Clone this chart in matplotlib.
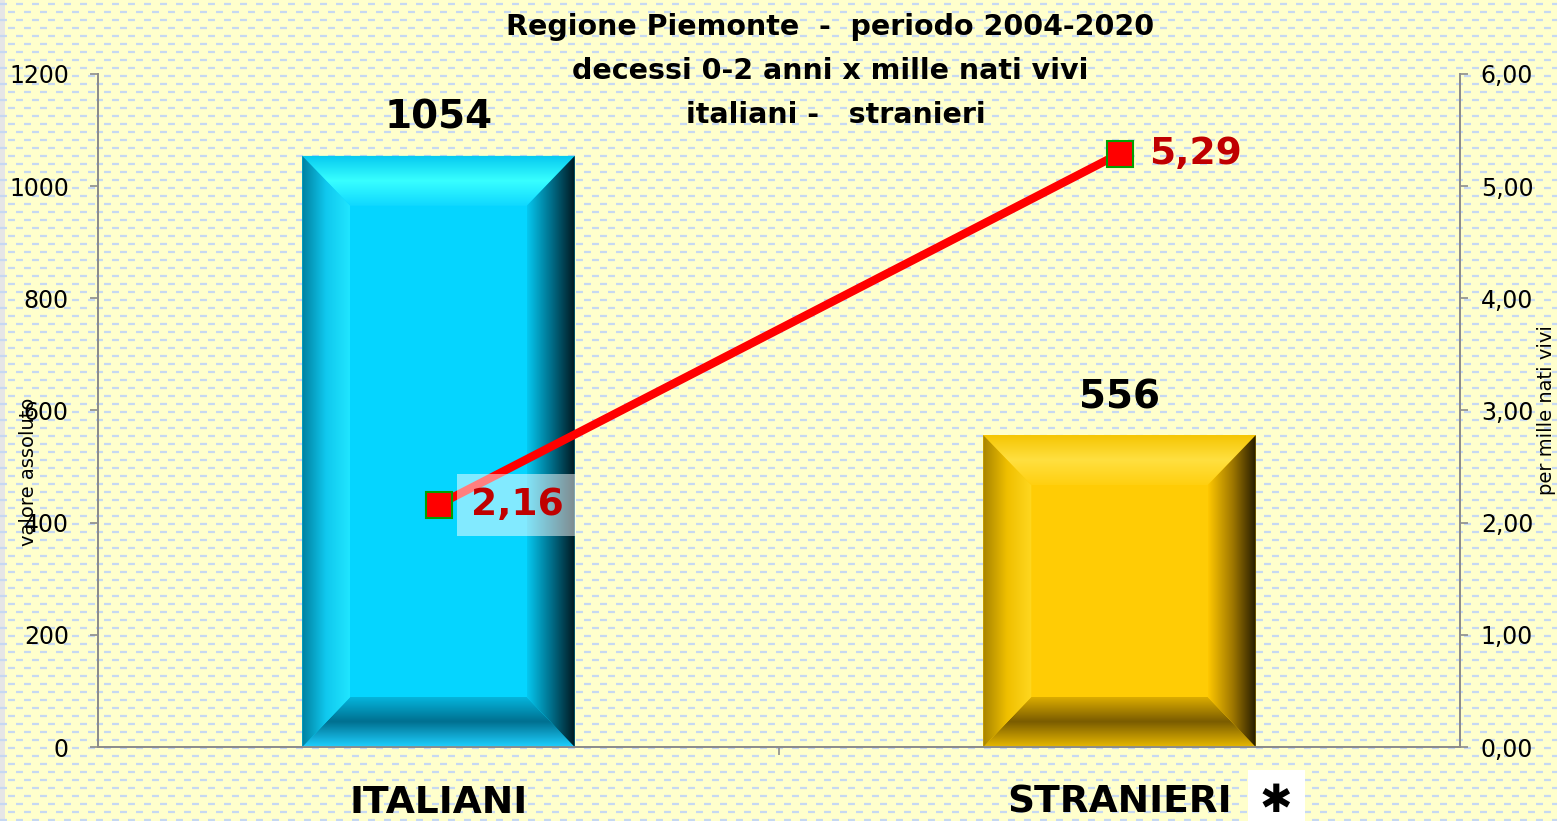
import numpy as np
import matplotlib
matplotlib.use("Agg")
import matplotlib.pyplot as plt
from matplotlib.collections import LineCollection
from matplotlib.patches import Polygon, Rectangle
from matplotlib.colors import LinearSegmentedColormap

# ---------------- data ----------------
categories = ["ITALIANI", "STRANIERI"]
deaths = [1054, 556]                 # valore assoluto
rates = [2.16, 5.29]                 # per mille nati vivi
rate_labels = ["2,16", "5,29"]
left_ticks = [0, 200, 400, 600, 800, 1000, 1200]
right_ticks = [0, 1, 2, 3, 4, 5, 6]
right_tick_labels = ["0,00", "1,00", "2,00", "3,00", "4,00", "5,00", "6,00"]
title_lines = ["Regione Piemonte  -  periodo 2004-2020",
               "decessi 0-2 anni x mille nati vivi",
               "italiani -   stranieri"]

W, H = 1557, 821
DPI = 100
fig = plt.figure(figsize=(W / DPI, H / DPI), dpi=DPI)
fig.patch.set_facecolor("#FFFFCC")

# ---------------- background pattern ----------------
bg = fig.add_axes([0, 0, 1, 1], zorder=-10)
bg.set_xlim(0, W)
bg.set_ylim(H, 0)
bg.axis("off")
segs = []
for k, y in enumerate(np.arange(4, H + 8, 8)):
    off = 0 if k % 2 == 0 else 8
    for xx in np.arange(-16 + off, W + 16, 16):
        segs.append([(xx, y), (xx + 7.5, y)])
bg.add_collection(LineCollection(segs, colors="#C6D8F2", linewidths=1.6))
bg.add_patch(Rectangle((0, 0), 5, H, color="#E6E6E6", lw=0))

# ---------------- axes ----------------
ax_l, ax_r = 98 / W, 1460 / W
ax_b, ax_t = (H - 747) / H, (H - 74) / H
ax = fig.add_axes([ax_l, ax_b, ax_r - ax_l, ax_t - ax_b])
ax.patch.set_alpha(0)
ax2 = ax.twinx()
ax2.patch.set_alpha(0)

ax.set_xlim(-0.5, 1.5)
ax.set_ylim(0, 1200)
ax2.set_ylim(0, 6)

x = np.arange(len(categories))
bar_w = 0.4

# pixel -> data scale
px_x = 2.0 / (1460 - 98)
px_y = 1200.0 / (747 - 74)
bx = 48 * px_x
by = 50 * px_y

styles = [
    dict(face="#05D5FF",
         top=["#0FD8FF", "#38FFFF", "#05C8F0"],        # inner -> outer
         left=["#0080A0", "#10C8EE", "#20E6FF"],        # outer -> inner
         right=["#05C8F0", "#00708C", "#001820"],       # inner -> outer
         bottom=["#1ED0FF", "#007090", "#05B8E0"]),     # outer(bottom) -> inner
    dict(face="#FFCC05",
         top=["#FFD010", "#FFE040", "#F5C400"],
         left=["#A88400", "#F0C000", "#FFD820"],
         right=["#FFC800", "#A07800", "#201800"],
         bottom=["#E8B800", "#7A5C00", "#E0B000"]),
]

def grad_fill(axis, verts, extent, cols, horizontal):
    cmap = LinearSegmentedColormap.from_list("g", cols)
    n = 256
    g = np.linspace(0, 1, n)
    arr = g[None, :] if horizontal else g[:, None]
    im = axis.imshow(arr, cmap=cmap, extent=extent, origin="lower",
                     aspect="auto", interpolation="bilinear", zorder=3)
    poly = Polygon(verts, closed=True, transform=axis.transData,
                   facecolor="none", edgecolor="none")
    axis.add_patch(poly)
    im.set_clip_path(poly)

bars = ax.bar(x, deaths, width=bar_w, zorder=2, linewidth=0)
for b, st in zip(bars, styles):
    b.set_facecolor(st["face"])
    x0 = b.get_x()
    x1 = x0 + b.get_width()
    h = b.get_height()
    grad_fill(ax, [(x0, h), (x1, h), (x1 - bx, h - by), (x0 + bx, h - by)],
              (x0, x1, h - by, h), st["top"], False)
    grad_fill(ax, [(x0, 0), (x1, 0), (x1 - bx, by), (x0 + bx, by)],
              (x0, x1, 0, by), st["bottom"], False)
    grad_fill(ax, [(x0, 0), (x0, h), (x0 + bx, h - by), (x0 + bx, by)],
              (x0, x0 + bx, 0, h), st["left"], True)
    grad_fill(ax, [(x1, 0), (x1, h), (x1 - bx, h - by), (x1 - bx, by)],
              (x1 - bx, x1, 0, h), st["right"], True)
    ax.text(b.get_x() + b.get_width() / 2, h + 38 * px_y, f"{h:.0f}",
            ha="center", va="center", fontsize=28, fontweight="bold",
            color="black", zorder=5)

ax.set_xlim(-0.5, 1.5)
ax.set_ylim(0, 1200)

# ---------------- rate line ----------------
ax2.plot(x, rates, color="#FF0000", lw=6, zorder=6,
         marker="s", markersize=19, markerfacecolor="#FF0000",
         markeredgecolor="#00A000", markeredgewidth=1.5, solid_capstyle="butt")
ax2.text(x[0] + 32 * px_x, rates[0], rate_labels[0], ha="left", va="center",
         fontsize=27, fontweight="bold", color="#C00000", zorder=7,
         bbox=dict(boxstyle="square,pad=0.35", facecolor="white", alpha=0.5,
                   edgecolor="none"))
ax2.text(x[1] + 30 * px_x, rates[1], rate_labels[1], ha="left", va="center",
         fontsize=27, fontweight="bold", color="#C00000", zorder=7)

# ---------------- axes styling ----------------
for a in (ax, ax2):
    a.spines["top"].set_visible(False)
    for s in ("left", "right", "bottom"):
        a.spines[s].set_color("#8C8C8C")
        a.spines[s].set_linewidth(1.3)

ax.set_yticks(left_ticks)
ax.set_yticklabels([str(t) for t in left_ticks])
ax.tick_params(axis="y", direction="out", length=6, width=1.2, color="#8C8C8C",
               labelsize=17, pad=15)
ax2.set_yticks(right_ticks)
ax2.set_yticklabels(right_tick_labels)
ax2.tick_params(axis="y", direction="out", length=6, width=1.2, color="#8C8C8C",
                labelsize=17, pad=9)

ax.set_xticks(x)
ax.set_xticklabels(categories, fontsize=27, fontweight="bold")
ax.tick_params(axis="x", length=0, pad=27)
ax.set_xticks([0.5], minor=True)
ax.tick_params(axis="x", which="minor", length=6, width=1.2, color="#8C8C8C",
               direction="out")

# asterisk box next to STRANIERI
fig.patches.append(Rectangle((1248 / W, 0), 57 / W, 51 / H,
                             transform=fig.transFigure, facecolor="white",
                             edgecolor="none", zorder=5))
fig.text(1276 / W, 1 - 801 / H, "\u2731", ha="center", va="center",
         fontsize=28, color="black", zorder=6)

# axis labels
fig.text(29 / W, 1 - 472 / H, "valore assoluto", rotation=90, ha="center",
         va="center", fontsize=14)
fig.text(1546 / W, 1 - 410 / H, "per mille nati vivi", rotation=90,
         ha="center", va="center", fontsize=14)

# title
for ypix, xpix, line in zip([27, 71, 115], [830, 830, 836], title_lines):
    fig.text(xpix / W, 1 - ypix / H, line, ha="center", va="center",
             fontsize=20.5, fontweight="bold")

fig.savefig("out.png", dpi=DPI, facecolor=fig.get_facecolor())
